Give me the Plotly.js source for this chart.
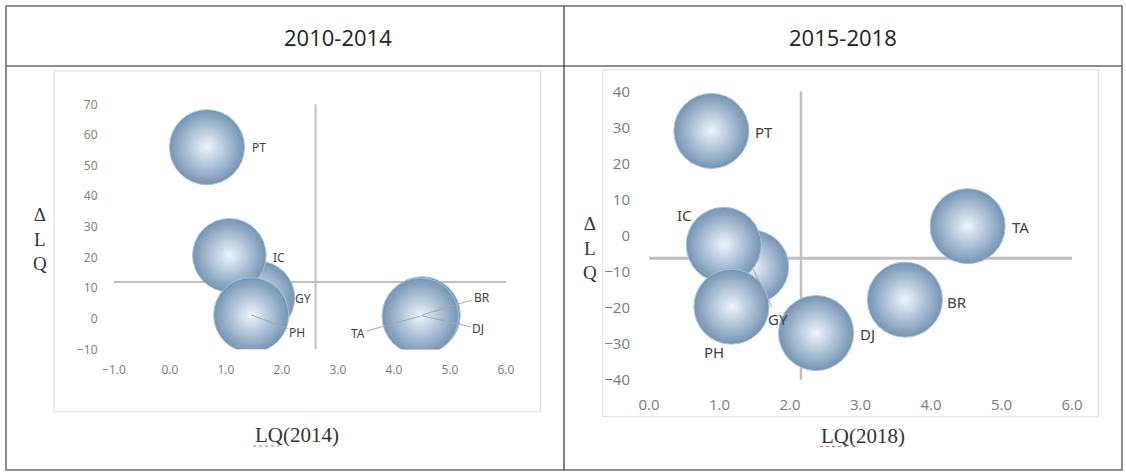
<!DOCTYPE html>
<html>
<head>
<meta charset="utf-8">
<script src="https://cdn.plot.ly/plotly-3.0.1.min.js"></script>
<style>
html,body{margin:0;padding:0;background:#fff;}
#chart{width:1126px;height:472px;}
</style>
</head>
<body>
<div id="chart"></div>
<script>
// ---------- data ----------
const regions = ["PT", "GY", "IC", "PH", "DJ", "BR", "TA"];

// 2010-2014 panel
const lq2014      = [0.66, 1.57, 1.06, 1.45, 4.49, 4.50, 4.47];
const dLq2014     = [56.0, 6.8, 20.7, 1.2, 1.0, 1.2, 0.8];
const bubble2014  = [1.00, 0.98, 0.98, 1.00, 1.02, 1.02, 1.02];
const cross2014   = [2.60, 12.0];   // [x where vertical axis crosses, y where horizontal axis crosses]

// 2015-2018 panel
const lq2018      = [0.885, 1.46, 1.06, 1.17, 2.37, 3.63, 4.52];
const dLq2018     = [29.0, -8.7, -2.6, -19.75, -27.05, -17.8, 2.6];
const bubble2018  = [1.00, 0.98, 1.00, 1.00, 1.00, 1.00, 1.00];
const cross2018   = [2.156, -6.3];

const panelTitles = ["2010-2014", "2015-2018"];
const xTitles     = ["LQ(2014)", "LQ(2018)"];
const yTitle      = "Δ<br>L<br>Q";

// ---------- layout helpers (pixel geometry) ----------
const W = 1126, H = 472;
const px = p => p / W;
const py = p => 1 - p / H;

// label offsets (px, relative to bubble centre) – style only
const labelStyle2014 = {
  PT: {dx: 52, dy: 0.5},
  IC: {dx: 50, dy: 2.5},
  GY: {dx: 45, dy: 1},
  PH: {dx: 46, dy: 17, arrow: true},
  BR: {dx: 60, dy: -18, arrow: true},
  DJ: {dx: 57, dy: 13, arrow: true},
  TA: {dx: -62, dy: 17, arrow: true}
};
const labelStyle2018 = {
  PT: {dx: 53, dy: 1},
  IC: {dx: -39, dy: -30},
  GY: {dx: 26, dy: 52, arrow: true},
  PH: {dx: -17, dy: 45},
  DJ: {dx: 51, dy: 1},
  BR: {dx: 52, dy: 2},
  TA: {dx: 53, dy: 1}
};

function bubbleTrace(xs, ys, sizes, xa, ya) {
  return {
    type: "scatter", mode: "markers",
    x: xs, y: ys, text: regions, hoverinfo: "text",
    xaxis: xa, yaxis: ya,
    cliponaxis: true,
    marker: {
      size: sizes, sizemode: "diameter", sizeref: 1 / 75,
      color: "#7594b3",
      gradient: {type: "radial", color: "#edf5fd"},
      line: {color: "#a3c0dc", width: 1},
      opacity: 1
    },
    showlegend: false
  };
}

function labelAnnotations(xs, ys, style, xr, yr, fontSize) {
  return regions.map((r, i) => {
    const s = style[r];
    const base = {
      x: xs[i], y: ys[i], xref: xr, yref: yr, text: r,
      font: {family: "Noto Sans, Open Sans, sans-serif", size: fontSize, color: "#404040"},
      xanchor: "center", yanchor: "middle"
    };
    if (s.arrow) {
      return Object.assign(base, {
        showarrow: true, arrowhead: 0, arrowwidth: 1, arrowcolor: "#a6a6a6",
        ax: s.dx, ay: s.dy, standoff: 0
      });
    }
    return Object.assign(base, {showarrow: false, xshift: s.dx, yshift: -s.dy});
  });
}

const traces = [
  bubbleTrace(lq2014, dLq2014, bubble2014, "x", "y"),
  bubbleTrace(lq2018, dLq2018, bubble2018, "x2", "y2")
];

const tickFontL = {family: "Open Sans, Noto Sans, sans-serif", size: 12, color: "#7a7a7a"};
const tickFontR = {family: "Open Sans, Noto Sans, sans-serif", size: 15, color: "#7a7a7a"};

function axisBase(font, ticklen) {
  return {
    showgrid: false, zeroline: false, showline: false,
    ticks: "outside", ticklen: ticklen, tickcolor: "rgba(0,0,0,0)",
    tickfont: font, fixedrange: true
  };
}

const layout = {
  width: W, height: H,
  margin: {l: 0, r: 0, t: 0, b: 0},
  paper_bgcolor: "#ffffff",
  plot_bgcolor: "rgba(0,0,0,0)",
  showlegend: false,
  xaxis: Object.assign(axisBase(tickFontL, 9), {
    domain: [px(114), px(506)], range: [-1, 6], dtick: 1, tick0: 0, tickformat: ".1f", anchor: "y"
  }),
  yaxis: Object.assign(axisBase(tickFontL, 13), {
    domain: [py(349.3), py(104.3)], range: [-10, 70], dtick: 10, tick0: 0, anchor: "x"
  }),
  xaxis2: Object.assign(axisBase(tickFontR, 11), {
    domain: [px(649), px(1072)], range: [0, 6], dtick: 1, tick0: 0, tickformat: ".1f", anchor: "y2"
  }),
  yaxis2: Object.assign(axisBase(tickFontR, 15), {
    domain: [py(379.7), py(91.3)], range: [-40, 40], dtick: 10, tick0: 0, anchor: "x2"
  }),
  shapes: [
    // table frame
    {type: "rect", xref: "paper", yref: "paper", x0: px(6), x1: px(1122), y0: py(470), y1: py(6),
     line: {color: "#6b6b6b", width: 1.5}, layer: "below"},
    {type: "line", xref: "paper", yref: "paper", x0: px(6), x1: px(1122), y0: py(66), y1: py(66),
     line: {color: "#6b6b6b", width: 1.5}, layer: "below"},
    {type: "line", xref: "paper", yref: "paper", x0: px(564), x1: px(564), y0: py(6), y1: py(470),
     line: {color: "#333333", width: 1.2}, layer: "below"},
    // chart area boxes
    {type: "rect", xref: "paper", yref: "paper", x0: px(54), x1: px(540.5), y0: py(411.7), y1: py(71),
     line: {color: "#dedede", width: 1}, layer: "below"},
    {type: "rect", xref: "paper", yref: "paper", x0: px(602.7), x1: px(1098.3), y0: py(416.7), y1: py(70),
     line: {color: "#dedede", width: 1}, layer: "below"},
    // crossing axis lines (left)
    {type: "line", xref: "x", yref: "y", x0: cross2014[0], x1: cross2014[0], y0: -10, y1: 70,
     line: {color: "#bfbfbf", width: 2}, layer: "below"},
    {type: "line", xref: "x", yref: "y", x0: -1, x1: 6, y0: cross2014[1], y1: cross2014[1],
     line: {color: "#bfbfbf", width: 2}, layer: "below"},
    // crossing axis lines (right)
    {type: "line", xref: "x2", yref: "y2", x0: cross2018[0], x1: cross2018[0], y0: -40, y1: 40,
     line: {color: "#bfbfbf", width: 2.5}, layer: "below"},
    {type: "line", xref: "x2", yref: "y2", x0: 0, x1: 6, y0: cross2018[1], y1: cross2018[1],
     line: {color: "#bfbfbf", width: 3}, layer: "below"},
    // spell-check squiggles under "LQ"
    {type: "line", xref: "paper", yref: "paper", x0: px(253), x1: px(279), y0: py(446), y1: py(446),
     line: {color: "#e06060", width: 1, dash: "dot"}},
    {type: "line", xref: "paper", yref: "paper", x0: px(820), x1: px(846), y0: py(446.5), y1: py(446.5),
     line: {color: "#e06060", width: 1, dash: "dot"}}
  ],
  annotations: [
    {xref: "paper", yref: "paper", x: px(338), y: py(37), text: panelTitles[0], showarrow: false,
     font: {family: "Open Sans, Noto Sans, sans-serif", size: 22, color: "#222"}, xanchor: "center", yanchor: "middle"},
    {xref: "paper", yref: "paper", x: px(843), y: py(37), text: panelTitles[1], showarrow: false,
     font: {family: "Open Sans, Noto Sans, sans-serif", size: 22, color: "#222"}, xanchor: "center", yanchor: "middle"},
    {xref: "paper", yref: "paper", x: px(297), y: py(435), text: xTitles[0], showarrow: false,
     font: {family: "Liberation Serif, DejaVu Serif, serif", size: 21, color: "#333"}, xanchor: "center", yanchor: "middle"},
    {xref: "paper", yref: "paper", x: px(863), y: py(436), text: xTitles[1], showarrow: false,
     font: {family: "Liberation Serif, DejaVu Serif, serif", size: 21, color: "#333"}, xanchor: "center", yanchor: "middle"},
    {xref: "paper", yref: "paper", x: px(39.5), y: py(239), text: yTitle, showarrow: false,
     font: {family: "Liberation Serif, DejaVu Serif, serif", size: 19, color: "#333"}, xanchor: "center", yanchor: "middle"},
    {xref: "paper", yref: "paper", x: px(590), y: py(248), text: yTitle, showarrow: false,
     font: {family: "Liberation Serif, DejaVu Serif, serif", size: 19, color: "#333"}, xanchor: "center", yanchor: "middle"}
  ]
    .concat(labelAnnotations(lq2014, dLq2014, labelStyle2014, "x", "y", 12))
    .concat(labelAnnotations(lq2018, dLq2018, labelStyle2018, "x2", "y2", 15))
};

Plotly.newPlot("chart", traces, layout, {displayModeBar: false, staticPlot: true});
</script>
</body>
</html>
